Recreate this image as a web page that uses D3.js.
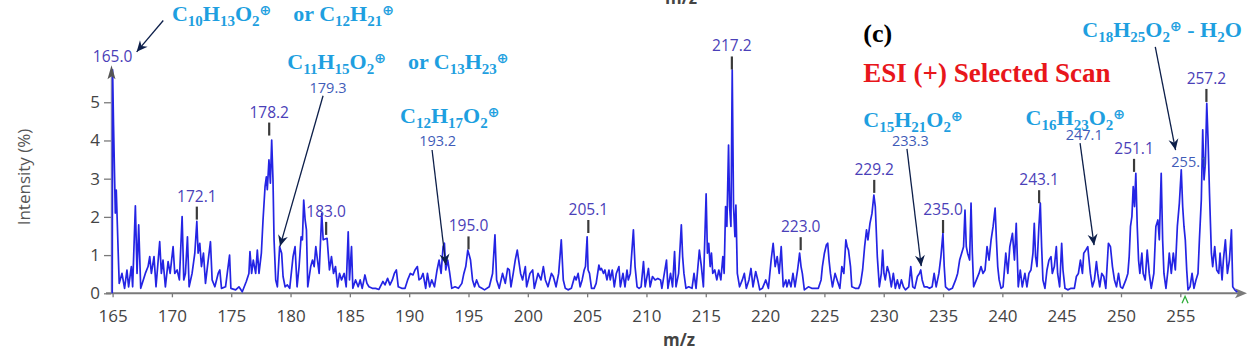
<!DOCTYPE html>
<html>
<head>
<meta charset="utf-8">
<script src="https://cdn.jsdelivr.net/npm/d3@7"></script>
<style>
  body { margin: 0; background: #fff; }
  svg { font-family: "Open Sans", sans-serif; }
</style>
</head>
<body>
<div id="chart"></div>
<script>
// ---- data ----
const xTicks = [165, 170, 175, 180, 185, 190, 195, 200, 205, 210, 215, 220, 225, 230, 235, 240, 245, 250, 255];
const yTicks = [0, 1, 2, 3, 4, 5];

// profile spectrum vertices [m/z, intensity %]
const spectrum = [
  [164.97,0],[165.0,5.85],[165.08,4.4],[165.23,2.1],[165.31,2.7],[165.4,1.8],[165.5,0.8],[165.56,0.26],
  [165.79,0.52],[166.01,0.13],[166.21,0.61],[166.35,0.17],[166.58,0.7],[166.69,0.17],[166.92,2.29],[167.06,0.52],
  [167.2,1.79],[167.37,0.13],[167.76,0.52],[167.99,0.7],[168.13,0.96],[168.27,0.52],[168.49,0.96],[168.66,0.17],
  [168.97,1.35],[169.11,0.52],[169.25,0.87],[169.45,0.17],[169.68,0.83],[169.85,0.52],[170.1,1.22],[170.24,0.52],
  [170.44,0.61],[170.63,0.35],[170.86,2.01],[171.0,0.35],[171.14,0.52],[171.31,1.48],[171.45,0.17],[171.7,0.52],
  [171.93,1.05],[172.1,1.88],[172.21,1.05],[172.35,1.31],[172.49,0.7],[172.66,1.05],[172.83,0.26],[173.06,0.87],
  [173.25,1.35],[173.39,0.35],[173.62,0.17],[173.9,0.52],[174.04,0.61],[174.18,0.13],[174.52,0.17],[174.86,1.0],
  [174.97,0.13],[175.37,0.09],[175.65,0.17],[175.93,0.04],[176.27,0.31],[176.49,0.52],[176.58,1.09],[176.72,0.52],
  [176.86,0.87],[177.06,0.52],[177.2,1.13],[177.34,0.52],[177.54,1.05],[177.68,1.92],[177.85,2.79],[177.96,3.05],
  [178.04,2.71],[178.18,3.49],[178.3,2.88],[178.41,4.01],[178.52,2.97],[178.61,1.4],[178.75,0.35],[178.89,0.17],
  [179.08,1.22],[179.25,1.05],[179.37,0.44],[179.54,0.17],[179.73,0.22],[179.93,0.13],[180.21,0.96],[180.38,1.22],
  [180.55,0.17],[180.72,0.7],[180.89,1.48],[181.0,1.4],[181.11,2.44],[181.23,1.92],[181.34,1.66],[181.45,0.17],
  [181.7,0.7],[181.85,0.87],[181.99,0.7],[182.13,1.22],[182.41,0.52],[182.63,2.09],[182.75,1.4],
  [183.08,1.44],[183.28,0.61],[183.45,0.96],[183.62,0.52],[183.79,0.7],[183.96,0.17],[184.13,0.52],[184.3,0.35],
  [184.52,0.52],[184.69,0.17],[184.86,1.61],[184.97,0.35],[185.14,1.22],[185.25,0.13],[185.48,0.35],[185.7,0.17],
  [185.87,0.35],[186.04,0.13],[186.27,0.48],[186.44,0.26],[186.61,0.17],[186.89,0.13],[187.17,0.13],[187.45,0.1],
  [187.79,0.31],[187.96,0.22],[188.18,0.39],[188.38,0.22],[188.58,0.35],[188.75,0.52],[188.92,0.61],[189.08,0.17],
  [189.37,0.13],[189.65,0.13],[189.87,0.35],[190.1,0.52],[190.32,0.48],[190.49,0.61],[190.69,0.7],[190.83,0.35],
  [191.0,0.39],[191.17,0.52],[191.39,0.13],[191.54,0.52],[191.73,0.17],[191.9,0.35],[192.13,0.17],[192.35,0.61],
  [192.52,0.87],[192.69,0.52],[192.86,1.22],[192.97,1.31],[193.08,0.61],[193.25,0.87],[193.42,0.52],[193.59,0.13],
  [193.87,0.17],[194.15,0.13],[194.44,0.26],[194.61,0.52],[194.77,0.7],[194.94,1.13],[195.06,1.0],[195.17,0.87],
  [195.34,0.35],[195.51,0.17],[195.68,0.35],[195.9,0.17],[196.13,0.13],[196.35,0.09],[196.75,0.17],[197.03,0.52],
  [197.23,1.53],[197.37,0.35],[197.59,0.13],[197.87,0.52],[198.1,0.26],[198.3,0.65],[198.44,0.61],[198.58,0.17],
  [198.77,0.52],[198.94,0.87],[199.11,1.13],[199.23,0.87],[199.39,0.52],[199.56,0.35],[199.79,0.7],[199.9,0.17],
  [200.18,0.52],[200.41,0.61],[200.55,0.13],[200.86,0.52],[201.11,0.35],[201.31,0.7],[201.48,0.35],[201.7,0.17],
  [201.99,0.52],[202.15,0.44],[202.38,0.17],
  [202.6,0.52],[202.82,1.4],[202.99,0.35],[203.16,0.13],[203.39,0.09],[203.67,0.13],[203.95,0.44],[204.07,0.35],
  [204.24,0.52],[204.41,0.17],[204.58,0.35],[204.75,0.61],[204.86,0.7],[205.0,1.48],[205.08,0.61],[205.2,0.52],
  [205.37,0.13],[205.59,0.13],[205.76,0.26],[205.99,0.74],[206.1,0.61],[206.21,0.65],[206.38,0.52],[206.5,0.61],
  [206.67,0.35],[206.84,0.61],[206.95,0.35],[207.12,0.61],[207.29,0.17],[207.46,0.52],[207.68,0.7],[207.8,0.17],
  [208.02,0.52],[208.19,0.17],[208.36,0.61],[208.47,0.35],[208.64,0.52],[208.9,1.66],[209.04,0.7],[209.21,0.17],
  [209.38,0.13],[209.55,0.17],[209.75,0.83],[209.89,0.17],[210.17,0.65],[210.31,0.17],[210.51,0.44],[210.73,0.35],
  [210.96,0.39],[211.19,0.35],[211.3,0.13],[211.69,0.87],[211.81,0.13],[212.03,0.52],[212.2,0.17],[212.37,1.09],
  [212.49,0.17],[212.71,0.52],[212.94,1.79],[213.05,0.96],[213.16,0.52],[213.33,0.13],[213.56,0.17],[213.84,0.13],
  [214.01,0.52],[214.18,0.13],[214.46,1.13],[214.63,0.7],[214.8,0.17],[215.03,2.6],[215.14,1.05],[215.25,1.31],
  [215.37,0.7],[215.48,1.05],[215.59,0.52],[215.76,0.61],[215.93,0.35],[216.1,0.61],[216.27,0.35],[216.44,0.96],
  [216.55,0.52],[216.67,2.27],[216.78,1.75],[216.92,3.88],[217.01,2.27],[217.12,1.75],[217.23,5.85],[217.34,2.27],
  [217.46,1.48],[217.54,2.31],[217.66,0.52],[217.85,0.17],[218.08,0.35],[218.25,0.52],[218.42,0.13],[218.64,0.35],
  [218.81,0.65],[218.98,0.17],[219.21,0.57],[219.38,0.35],[219.55,0.09],[219.77,0.13],[220.06,0.35],[220.28,0.13],
  [220.51,0.87],[220.68,1.31],[220.85,0.7],[221.02,0.96],[221.19,0.52],[221.36,1.22],[221.53,0.17],[221.75,0.35],
  [221.84,0.17],[222.01,0.35],[222.18,0.17],[222.35,0.52],[222.52,0.17],[222.74,0.61],[222.91,1.05],[223.03,0.7],
  [223.14,0.52],[223.31,0.09],[223.65,0.17],[223.93,0.13],[224.21,0.13],[224.49,0.13],[224.72,0.35],[224.83,0.7],
  [225.0,1.05],[225.17,1.27],[225.28,1.31],[225.39,0.87],[225.51,0.52],[225.68,0.17],[225.9,0.52],[226.07,0.35],
  [226.3,0.13],[226.47,0.7],[226.64,0.52],[226.81,1.4],[226.92,1.22],[227.03,1.13],[227.2,0.7],[227.31,0.17],
  [227.6,0.13],[227.88,0.13],[228.05,0.26],[228.22,0.61],[228.39,1.22],[228.55,1.66],[228.67,1.4],[228.84,1.83],
  [229.01,2.09],[229.17,2.57],[229.29,2.27],[229.46,0.96],[229.63,0.17],[229.8,0.52],[229.91,1.13],[230.02,0.52],
  [230.13,0.35],[230.3,0.7],[230.47,0.52],[230.64,0.17],[230.81,0.52],[230.98,0.13],[231.15,0.35],[231.32,0.13],
  [231.49,0.35],[231.66,0.17],[231.83,0.09],[232.11,0.17],[232.28,0.7],[232.45,0.17],[232.62,0.13],[232.84,0.44],
  [233.01,0.52],[233.12,0.61],[233.24,0.35],[233.41,0.17],[233.63,0.17],[233.86,0.13],[234.08,0.17],[234.25,0.52],
  [234.42,0.17],[234.65,0.52],[234.82,0.96],[234.99,1.57],[235.1,0.7],[235.21,0.17],[235.49,0.09],[235.78,0.13],
  [236.06,0.35],[236.23,0.52],[236.4,0.87],[236.57,1.05],[236.73,1.22],[236.85,2.18],[236.96,1.22],[237.07,1.05],
  [237.24,0.87],[237.36,2.36],[237.47,1.05],[237.58,0.17],[237.81,0.35],[238.03,0.52],[238.2,0.7],[238.37,0.52],
  [238.54,0.61],[238.71,1.22],[238.88,0.87],[239.05,1.4],[239.22,1.75],[239.39,2.23],[239.5,1.4],[239.61,0.7],
  [239.73,0.35],[239.89,0.13],[240.06,0.17],[240.29,1.05],[240.46,0.52],[240.63,1.22],[240.85,1.57],[241.02,0.87],
  [241.17,1.83],[241.34,0.17],[241.51,0.61],[241.68,0.17],[241.9,0.52],[242.07,0.17],[242.24,0.52],[242.41,0.61],
  [242.58,1.05],[242.69,1.83],[242.8,0.96],[242.92,0.7],[243.08,1.75],[243.2,2.36],[243.31,1.22],[243.42,0.35],
  [243.59,0.13],[243.76,0.61],[243.93,0.87],[244.1,0.96],[244.21,0.52],[244.38,0.7],[244.55,1.22],[244.66,0.52],
  [244.83,0.17],[245.0,1.31],[245.11,0.61],[245.28,0.13],[245.51,0.09],[245.79,0.13],[246.07,0.13],[246.24,0.44],
  [246.41,0.52],[246.58,0.87],[246.75,0.52],[246.86,1.05],[247.03,1.13],[247.2,1.22],[247.31,0.87],[247.42,0.52],
  [247.59,0.17],[247.76,0.35],[247.93,0.83],[248.04,0.52],[248.21,0.17],[248.38,0.52],[248.55,0.44],[248.72,0.13],
  [248.94,1.31],[249.11,1.22],[249.28,0.7],[249.45,0.35],[249.62,0.17],[249.79,0.52],[249.96,0.17],[250.13,0.13],
  [250.41,0.35],[250.58,0.52],[250.69,0.96],[250.8,1.75],[250.92,2.01],[251.03,2.79],[251.14,2.27],[251.25,3.14],
  [251.37,1.75],[251.48,0.87],[251.59,0.52],[251.76,1.05],[251.87,0.52],[252.04,0.35],[252.21,1.13],[252.38,0.52],
  [252.55,0.13],[252.77,0.52],[252.94,1.75],[253.11,1.92],[253.23,1.4],[253.39,3.14],[253.51,1.4],[253.62,0.52],
  [253.79,0.13],[253.96,0.61],[254.07,1.05],[254.24,0.52],[254.41,1.05],[254.58,0.61],[254.75,1.75],[254.92,2.36],
  [255.08,3.23],[255.2,2.27],[255.31,1.75],[255.42,1.4],[255.54,0.61],[255.65,0.09],[255.82,0.17],[255.99,0.52],
  [256.15,0.13],[256.32,0.35],[256.49,0.52],[256.61,1.4],[256.77,2.44],[256.89,4.28],[257.0,2.97],[257.11,3.4],
  [257.23,4.97],[257.34,4.01],[257.46,2.62],[257.62,1.05],[257.73,0.7],[257.9,1.22],[258.07,0.61],[258.24,0.52],
  [258.35,1.05],[258.52,0.35],[258.63,0.87],[258.8,1.4],[258.97,0.52],[259.14,0.87],[259.31,1.66],[259.42,0.17],
  [259.59,0.09],[259.8,0.03]
];

// labelled peaks: text, height of the marked peak, whether it has a marker tick
const peakText = ["165.0", "172.1", "178.2", "183.0", "195.0", "205.1", "217.2", "223.0", "229.2", "235.0", "243.1", "251.1", "257.2"];
const peakHeight = [5.5, 1.85, 4.05, 1.45, 1.07, 1.5, 5.78, 1.05, 2.55, 1.5, 2.28, 3.1, 4.93];
const peakTick = [false, true, true, true, true, true, true, true, true, true, true, true, true];

// assigned ions (values shown in the annotation layer)
const ionValues = ["179.3", "193.2", "233.3", "247.1", "255.1"];
const formulas = [
  "C_10H_13O_2^    or C_12H_21^",
  "C_11H_15O_2^    or C_13H_23^",
  "C_12H_17O_2^",
  "C_15H_21O_2^",
  "C_16H_23O_2^",
  "C_18H_25O_2^ - H_2O"
];
const markerMz = 255.4; // green scan marker on the axis

// ---- layout (in data units, placed through the scales) ----
const ionValueAt = [[183.16, 5.24], [192.4, 3.86], [232.25, 3.86], [246.9, 4.01], [255.8, 3.31]];
const formulaAt = [[170.0, 7.13], [179.73, 5.87], [189.23, 4.46], [228.28, 4.36], [241.96, 4.4], [246.74, 6.71]];
const arrows = [
  [169.27, 7.14, 167.03, 6.32],
  [182.74, 5.17, 179.11, 1.23],
  [191.93, 3.75, 193.09, 0.74],
  [231.96, 3.78, 233.16, 0.71],
  [246.55, 3.93, 247.73, 1.26],
  [252.89, 6.45, 254.6, 3.75]
];

const width = 1247, height = 350;
const svg = d3.select('#chart').append('svg')
  .attr('width', width)
  .attr('height', height)
  .style('display', 'block');

const x = d3.scaleLinear().domain([164.95, 260.2]).range([112, 1242]);
const y = d3.scaleLinear().domain([0, 5.97]).range([293.3, 65.2]);

const sans = '"Open Sans", sans-serif';
const serif = '"Liberation Serif", "Times New Roman", serif';
const axisGrey = '#7a7a7a';
const tickText = '#444';

// x axis
const xAxis = svg.append('g')
  .attr('transform', `translate(0,${y(0)})`)
  .call(d3.axisBottom(x).tickValues(xTicks).tickSize(4).tickPadding(13).tickSizeOuter(0));
xAxis.select('.domain').remove();
xAxis.selectAll('line').attr('stroke', axisGrey).attr('stroke-width', 1.3);
xAxis.selectAll('text').attr('font-size', 17).attr('fill', tickText).attr('font-family', sans);
svg.append('line')
  .attr('x1', 106).attr('x2', 1238).attr('y1', y(0)).attr('y2', y(0))
  .attr('stroke', axisGrey).attr('stroke-width', 2);
svg.append('path')
  .attr('d', `M1247,${y(0)} L1235,${y(0) - 5} L1238,${y(0)} L1235,${y(0) + 5} Z`)
  .attr('fill', axisGrey);

// y axis
const yAxis = svg.append('g')
  .attr('transform', 'translate(111,0)')
  .call(d3.axisLeft(y).tickValues(yTicks).tickFormat(d3.format('d'))
    .tickSize(7).tickPadding(4).tickSizeOuter(0));
yAxis.select('.domain').remove();
yAxis.selectAll('line').attr('stroke', axisGrey).attr('stroke-width', 1.3);
yAxis.selectAll('text').attr('font-size', 17).attr('fill', tickText).attr('font-family', sans);
svg.append('line')
  .attr('x1', 111.5).attr('x2', 111.5).attr('y1', y(0)).attr('y2', y(5.8))
  .attr('stroke', '#9a9aa8').attr('stroke-width', 1.5);

// axis titles
svg.append('text')
  .attr('x', 679).attr('y', 346)
  .attr('text-anchor', 'middle')
  .attr('font-family', sans)
  .attr('font-size', 17).attr('font-weight', 'bold').attr('fill', tickText)
  .text('m/z');
svg.append('text')
  .attr('x', 681).attr('y', 4)
  .attr('text-anchor', 'middle')
  .attr('font-family', sans)
  .attr('font-size', 17).attr('font-weight', 'bold').attr('fill', tickText)
  .text('m/z');
svg.append('text')
  .attr('transform', 'translate(30,177) rotate(-90)')
  .attr('text-anchor', 'middle')
  .attr('font-family', sans)
  .attr('font-size', 17).attr('fill', '#555')
  .text('Intensity (%)');

// spectrum
const line = d3.line()
  .x(d => x(d[0]))
  .y(d => y(d[1]));
svg.append('path')
  .datum(spectrum)
  .attr('d', line)
  .attr('fill', 'none')
  .attr('stroke', '#2424e4')
  .attr('stroke-width', 1.7)
  .attr('stroke-linejoin', 'round');

// y-axis arrow head sits over the first peak
svg.append('path')
  .attr('d', `M111.5,${y(5.97)} L107.5,${y(5.6)} L111.5,${y(5.68)} L115.5,${y(5.6)} Z`)
  .attr('fill', '#555');

// peak labels with marker ticks
const peaks = svg.append('g');
peakText.forEach((t, i) => {
  const px = x(+t), py = y(peakHeight[i]);
  if (peakTick[i]) {
    peaks.append('line')
      .attr('x1', px).attr('x2', px)
      .attr('y1', py - 16).attr('y2', py - 3)
      .attr('stroke', '#3a3a3a').attr('stroke-width', 2.2);
  }
  peaks.append('text')
    .attr('x', px).attr('y', py - 21)
    .attr('text-anchor', 'middle')
    .attr('font-family', sans)
    .attr('font-size', 15.5)
    .attr('fill', '#4a40b8')
    .text(t);
});

// green marker
svg.append('path')
  .attr('d', `M${x(markerMz) - 3},${y(0) + 10} L${x(markerMz)},${y(0) + 3} L${x(markerMz) + 3},${y(0) + 10}`)
  .attr('fill', 'none')
  .attr('stroke', '#2fae3a')
  .attr('stroke-width', 1.3);

// annotation arrows
svg.append('defs').append('marker')
  .attr('id', 'head')
  .attr('viewBox', '-12 -6 14 12')
  .attr('markerWidth', 14).attr('markerHeight', 12)
  .attr('markerUnits', 'userSpaceOnUse')
  .attr('refX', 0).attr('refY', 0)
  .attr('orient', 'auto')
  .append('path')
  .attr('d', 'M0,0 L-11,-5 L-7.5,0 L-11,5 Z')
  .attr('fill', '#0d1f4a');

svg.append('g').selectAll('line')
  .data(arrows)
  .join('line')
  .attr('x1', d => x(d[0])).attr('y1', d => y(d[1]))
  .attr('x2', d => x(d[2])).attr('y2', d => y(d[3]))
  .attr('stroke', '#0d1f4a')
  .attr('stroke-width', 1.3)
  .attr('marker-end', 'url(#head)');

// ion values
svg.append('g').selectAll('text')
  .data(ionValues)
  .join('text')
  .attr('x', (d, i) => x(ionValueAt[i][0]))
  .attr('y', (d, i) => y(ionValueAt[i][1]))
  .attr('text-anchor', 'middle')
  .attr('font-family', sans)
  .attr('font-size', 14.5)
  .attr('fill', '#3f5cb8')
  .text(d => d);

// chemical formulas
function drawFormula(str, fx, fy) {
  const t = svg.append('text')
    .attr('x', fx).attr('y', fy)
    .attr('font-family', serif)
    .attr('font-weight', 'bold')
    .attr('font-size', 22)
    .attr('fill', '#1e9fe0')
    .style('white-space', 'pre');
  let shift = 0;
  str.match(/_\d+|\^|[^_^]+/g).forEach(tok => {
    let target = 0, size = 22, txt = tok, fam = serif;
    if (tok[0] === '_') { target = 5; size = 15; txt = tok.slice(1); }
    else if (tok === '^') { target = -6; size = 14; txt = '\u2295'; fam = '"DejaVu Sans", sans-serif'; }
    t.append('tspan')
      .attr('dy', target - shift)
      .attr('font-size', size)
      .attr('font-family', fam)
      .text(txt);
    shift = target;
  });
}
formulas.forEach((f, i) => drawFormula(f, x(formulaAt[i][0]), y(formulaAt[i][1])));

svg.append('text')
  .attr('x', x(228.28)).attr('y', y(6.58))
  .attr('font-family', serif).attr('font-weight', 'bold')
  .attr('font-size', 26).attr('fill', '#000')
  .text('(c)');
svg.append('text')
  .attr('x', x(228.28)).attr('y', y(5.54))
  .attr('font-family', serif).attr('font-weight', 'bold')
  .attr('font-size', 27).attr('fill', '#e8161b')
  .text('ESI (+) Selected Scan');
</script>
</body>
</html>
